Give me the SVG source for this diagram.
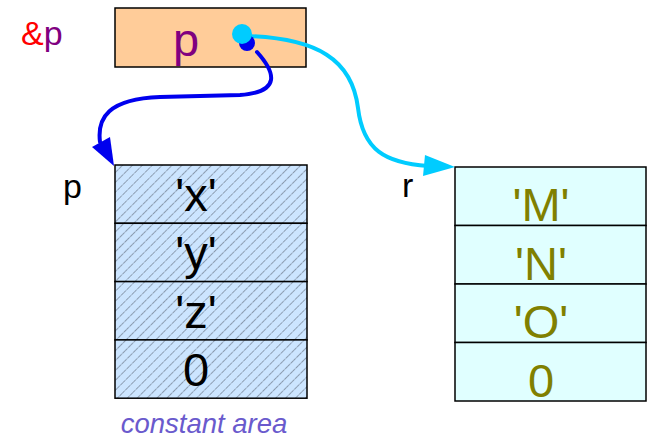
<svg xmlns="http://www.w3.org/2000/svg" width="650" height="440" viewBox="0 0 650 440">
<style>
.cell{stroke:#000;stroke-width:1.5}
.big{font-family:"Liberation Sans",Arial,sans-serif;font-size:47px;text-anchor:middle}
.lbl{font-family:"Liberation Sans",Arial,sans-serif;font-size:34px}
.ol{fill:#808000}
</style>
<defs>
<pattern id="hatch" width="7" height="8" patternUnits="userSpaceOnUse" patternTransform="rotate(45)">
<rect width="7" height="8" fill="#cce5ff"/>
<line x1="0" y1="0" x2="0" y2="8" stroke="#4a5260" stroke-width="1" stroke-dasharray="3.5,0.8"/>
</pattern>
</defs>
<text class="lbl" x="21" y="45"><tspan fill="#ff0000">&amp;</tspan><tspan fill="#800080">p</tspan></text>
<g id="ptr">
<rect x="115" y="8" width="191" height="59" fill="#ffcc99" class="cell"/>
<text class="big" x="186" y="56" fill="#800080">p</text>
</g>
<g id="arr_p">
<rect x="115" y="165" width="192" height="58.3" fill="url(#hatch)" class="cell"/>
<rect x="115" y="223.3" width="192" height="58.3" fill="url(#hatch)" class="cell"/>
<rect x="115" y="281.6" width="192" height="58.3" fill="url(#hatch)" class="cell"/>
<rect x="115" y="339.9" width="192" height="58.3" fill="url(#hatch)" class="cell"/>
<text class="big" x="196" y="211">'x'</text>
<text class="big" x="196" y="269">'y'</text>
<text class="big" x="196" y="328">'z'</text>
<text class="big" x="196" y="386">0</text>
<text class="lbl" x="63" y="198">p</text>
</g>
<g id="arr_r">
<rect x="455" y="167" width="191" height="58.5" fill="#e0ffff" class="cell"/>
<rect x="455" y="225.5" width="191" height="58.5" fill="#e0ffff" class="cell"/>
<rect x="455" y="284" width="191" height="58.5" fill="#e0ffff" class="cell"/>
<rect x="455" y="342.5" width="191" height="58.5" fill="#e0ffff" class="cell"/>
<text class="big ol" x="541" y="221">'M'</text>
<text class="big ol" x="541" y="280">'N'</text>
<text class="big ol" x="541" y="338">'O'</text>
<text class="big ol" x="541" y="397">0</text>
<text class="lbl" x="402" y="197">r</text>
</g>
<text x="204" y="433" font-family="'Liberation Sans',Arial,sans-serif" font-size="27.5" font-style="italic" fill="#6a5acd" text-anchor="middle">constant area</text>
<g id="connectors" stroke-width="4" stroke-linecap="round">
<path d="M257,52 C275,72 282,92 240,95 L160,97 C108,99 97,118 100,142" stroke="#0000ee" fill="none"/>
<polygon points="114,166 92,147 110,137" fill="#0000ee"/>
<path d="M245,36 C318,38 352,60 358,108 C363,150 385,163 428,166" stroke="#00ccff" fill="none"/>
<polygon points="455,167 425,155 423,176" fill="#00ccff"/>
<circle cx="247" cy="43" r="8" fill="#0000ee"/>
<circle cx="242" cy="34" r="10" fill="#00ccff"/>
</g>
</svg>
